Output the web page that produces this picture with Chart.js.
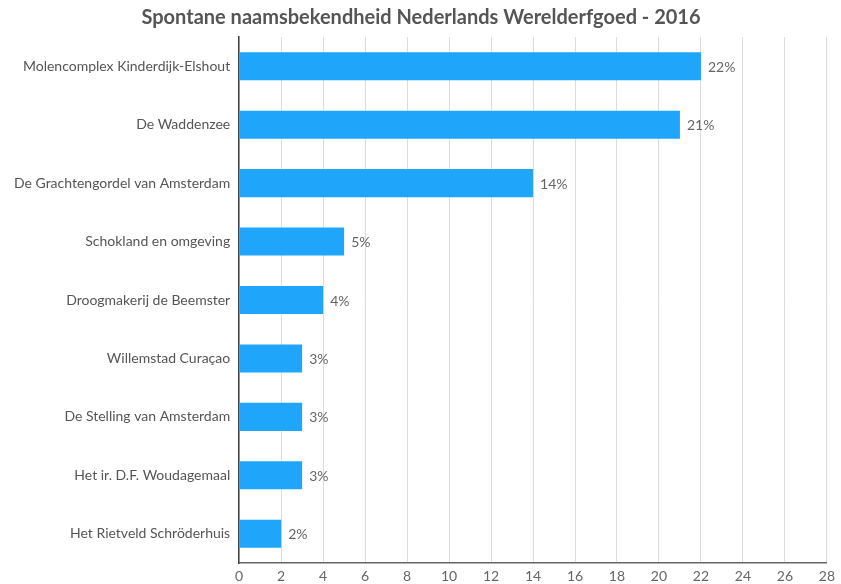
<!DOCTYPE html>
<html>
<head>
<meta charset="utf-8">
<script src="https://cdn.jsdelivr.net/npm/chart.js@4"></script>
<style>
  html, body { margin: 0; padding: 0; background: #fff; }
  #wrap { width: 841px; height: 584px; }
</style>
</head>
<body>
<div id="wrap"><canvas id="chartWerelderfgoed"></canvas></div>
<script>
const categorieen = [
    'Molencomplex Kinderdijk-Elshout',
    'De Waddenzee',
    'De Grachtengordel van Amsterdam',
    'Schokland en omgeving',
    'Droogmakerij de Beemster',
    'Willemstad Curaçao',
    'De Stelling van Amsterdam',
    'Het ir. D.F. Woudagemaal',
    'Het Rietveld Schröderhuis'
];
const percentages = [22, 21, 14, 5, 4, 3, 3, 3, 2];
const xTicks = [0, 2, 4, 6, 8, 10, 12, 14, 16, 18, 20, 22, 24, 26, 28];

const fontFamily = 'Lato, "Open Sans", sans-serif';

// labels "22%" etc. rechts van de balken
const waardeLabels = {
    id: 'waardeLabels',
    afterDatasetsDraw(chart) {
        const ctx = chart.ctx;
        const meta = chart.getDatasetMeta(0);
        ctx.save();
        ctx.font = '14px ' + fontFamily;
        ctx.fillStyle = '#666';
        ctx.textAlign = 'left';
        ctx.textBaseline = 'middle';
        meta.data.forEach((bar, i) => {
            ctx.fillText(percentages[i] + '%', bar.x + 7, bar.y + 1);
        });
        ctx.restore();
    }
};

new Chart(document.getElementById('chartWerelderfgoed'), {
    type: 'bar',
    data: {
        labels: categorieen,
        datasets: [{
            data: percentages,
            backgroundColor: '#1fa6fa',
            borderWidth: 0,
            barPercentage: 0.48,
            categoryPercentage: 1
        }]
    },
    options: {
        indexAxis: 'y',
        responsive: true,
        maintainAspectRatio: false,
        animation: false,
        layout: { padding: { top: 0, right: 4, left: 5, bottom: 0 } },
        plugins: {
            legend: { display: false },
            tooltip: { enabled: false },
            title: {
                display: true,
                text: 'Spontane naamsbekendheid Nederlands Werelderfgoed - 2016',
                color: '#555',
                font: { family: fontFamily, size: 20, weight: 'bold' },
                padding: { top: 6, bottom: 7 }
            }
        },
        scales: {
            x: {
                min: 0,
                max: 28,
                afterBuildTicks(axis) {
                    axis.ticks = xTicks.map(v => ({ value: v }));
                },
                afterFit(axis) {
                    axis.height = 21;
                },
                grid: {
                    color: '#dcdcdc',
                    drawTicks: false
                },
                border: { color: '#666', width: 1.5 },
                ticks: {
                    color: '#666',
                    padding: 6,
                    font: { family: fontFamily, size: 14, lineHeight: 1 }
                }
            },
            y: {
                grid: { display: false, drawTicks: false },
                border: { color: '#444', width: 1.5 },
                ticks: {
                    color: '#555',
                    padding: 9,
                    font: { family: fontFamily, size: 14 }
                }
            }
        }
    },
    plugins: [waardeLabels]
});
</script>
</body>
</html>
